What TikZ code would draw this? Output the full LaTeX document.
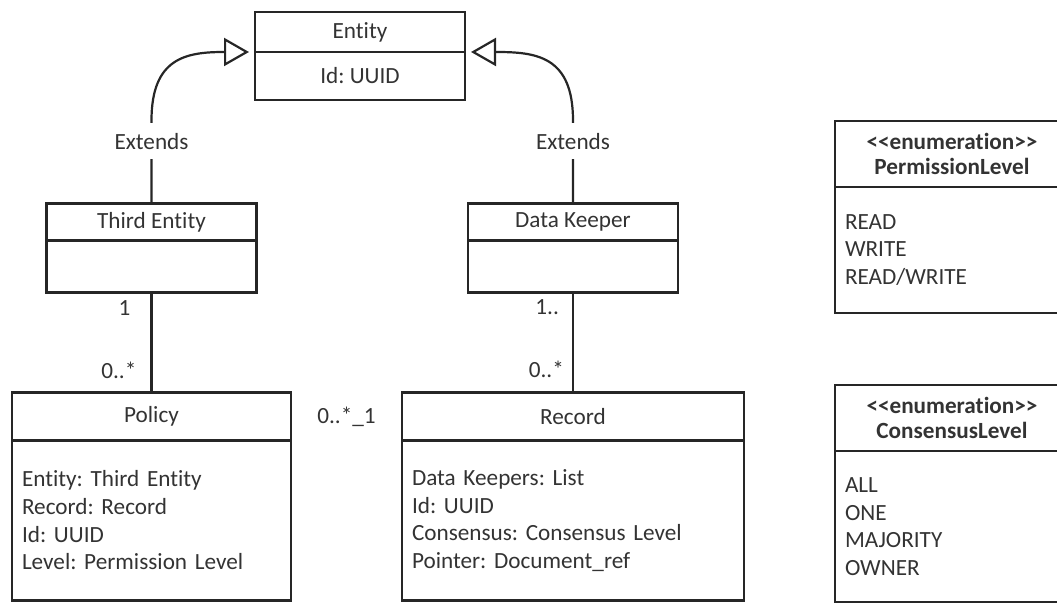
\documentclass[tikz,border=0pt]{standalone}
\usepackage{fontspec}
\setmainfont{Carlito}[Ligatures={NoCommon,NoRequired}, Contextuals={NoAlternate}]
\frenchspacing
\usetikzlibrary{arrows.meta,positioning,calc}

\begin{document}
\begin{tikzpicture}[
        x=0.5pt,
        y=0.5pt,
        line width=1.1pt,
        color=black!85,
        every node/.style={
            text=black!80,
            font=\fontsize{11.6}{13.85}\selectfont
        },
        head/.style={
            rectangle,
            draw,
            outer sep=0pt,
            inner sep=0pt,
            minimum width=105pt,
            minimum height=18.5pt
        },
        body/.style={
            head,
            minimum height=26pt
        },
        attrs/.style={
            body,
            align=left,
            inner xsep=5pt
        },
        enumhead/.style={
            head,
            align=center,
            minimum width=117pt,
            minimum height=33pt,
            font=\bfseries\fontsize{11.6}{12.5}\selectfont
        },
        extends/.style={
            -{Triangle[open, length=12.5pt, width=14pt]},
            looseness=1.35
        },
        extlabel/.style={
            fill=white,
            inner sep=5pt
        },
        mult/.style={
            inner sep=0pt
        },
        node distance=0pt
    ]
    \useasboundingbox (0,0) rectangle (1057,603);

    \node[head, minimum height=20pt] (entityhead) at (360,571) {Entity};
    \node[body, minimum height=24pt, below=of entityhead] (entitybody) {Id: UUID};

    \node[head] (thirdhead) at (151.5,381) {Third Entity};
    \node[body, below=of thirdhead] (thirdbody) {};
    \node[head] (keeperhead) at (573,381) {Data Keeper};
    \node[body, below=of keeperhead] (keeperbody) {};

    \node[head, minimum width=139.5pt, minimum height=24pt, below=50pt of thirdbody] (policyhead) {Policy};
    \node[attrs, minimum height=80pt, text width=129.5pt, below=of policyhead] (policybody)
        {Entity: Third Entity\\Record: Record\\Id: UUID\\Level: Permission Level};
    \node[head, minimum width=171pt, minimum height=24pt, below=50pt of keeperbody] (recordhead) {Record};
    \node[attrs, minimum height=80pt, text width=161pt, below=of recordhead] (recordbody)
        {Data Keepers: List\\Id: UUID\\Consensus: Consensus Level\\Pointer: Document\_ref};

    \node (assoclabel) at ($(policyhead.east)!0.5!(recordhead.west)$) {0..*\_1};

    \node[enumhead] (permhead) at (952,449) {<{}<enumeration>{}>\\PermissionLevel};
    \node[attrs, minimum height=63pt, text width=107pt, below=of permhead] (permbody)
        {READ\\WRITE\\READ/WRITE};
    \node[enumhead, below=36pt of permbody] (conshead) {<{}<enumeration>{}>\\ConsensusLevel};
    \node[attrs, minimum height=75.5pt, text width=107pt, below=of conshead] (consbody)
        {ALL\\ONE\\MAJORITY\\OWNER};

    \draw[extends] (thirdhead.north) -- node[extlabel, pos=.75] {Extends} ++(0,83)
        to[out=90, in=180] ([xshift=-3pt]entityhead.south west);
    \draw[extends] (keeperhead.north) -- node[extlabel, pos=.75] {Extends} ++(0,83)
        to[out=90, in=0] ([xshift=3pt]entityhead.south east);

    \draw (thirdbody.south) -- node[mult, pos=.155, left=10pt] {1}
        node[mult, pos=.775, left=7pt] {0..*} (policyhead.north);
    \draw (keeperbody.south) -- node[mult, pos=.15, left=6.5pt] {1..}
        node[mult, pos=.77, left=4pt] {0..*} (recordhead.north);
\end{tikzpicture}
\end{document}
